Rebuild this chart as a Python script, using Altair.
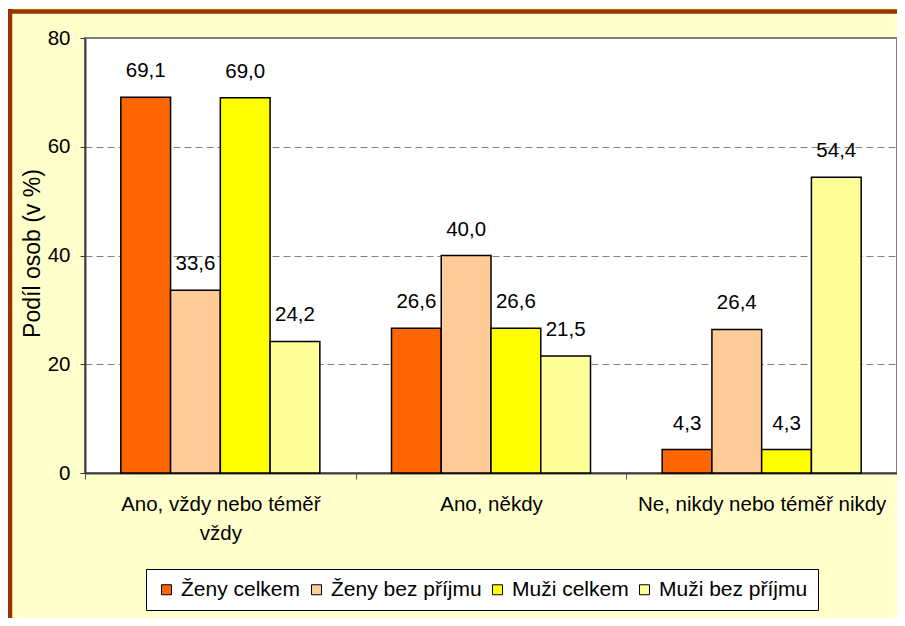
import altair as alt
import pandas as pd

categories = ["Ano, vždy nebo téměř vždy", "Ano, někdy", "Ne, nikdy nebo téměř nikdy"]
series = ["Ženy celkem", "Ženy bez příjmu", "Muži celkem", "Muži bez příjmu"]
zeny_celkem = [69.1, 26.6, 4.3]
zeny_bez = [33.6, 40.0, 26.4]
muzi_celkem = [69.0, 26.6, 4.3]
muzi_bez = [24.2, 21.5, 54.4]
colors = ["#FF6600", "#FFCC99", "#FFFF00", "#FFFF99"]
y_ticks = [0, 20, 40, 60, 80]

rows = []
for s, vals in zip(series, [zeny_celkem, zeny_bez, muzi_celkem, muzi_bez]):
    for c, v in zip(categories, vals):
        rows.append({"kat": c, "serie": s, "hodnota": v,
                     "popis": f"{v:.1f}".replace(".", ",")})
df = pd.DataFrame(rows)

FONT = "Liberation Sans"

x_enc = alt.X("kat:N", sort=categories, title=None,
              scale=alt.Scale(paddingInner=0, paddingOuter=0),
              axis=alt.Axis(labelAngle=0, labelFontSize=20.5, labelColor="black",
                            labelPadding=15, tickSize=6, tickColor="#555555",
                            tickBand="extent", domainColor="#404040", domainWidth=2,
                            labelLineHeight=29, labelLimit=400,
                            labelExpr="datum.label == 'Ano, vždy nebo téměř vždy' ? ['Ano, vždy nebo téměř', 'vždy'] : datum.label"))
xo_enc = alt.XOffset("serie:N", sort=series,
                     scale=alt.Scale(paddingOuter=0.72, paddingInner=0))
y_enc = alt.Y("hodnota:Q", scale=alt.Scale(domain=[0, 80], nice=False),
              axis=alt.Axis(values=y_ticks, title="Podíl osob (v %)",
                            titleFontSize=23, titleFontWeight="normal", titleColor="black",
                            titleX=-41, titleY=215, titleBaseline="bottom",
                            labelFontSize=20.5, labelColor="black", labelPadding=10,
                            tickSize=5, tickColor="#333333",
                            domainColor="#404040", domainWidth=2,
                            grid=True, gridColor="#808080", gridDash=[7, 4], gridWidth=1))

bars = alt.Chart(df).mark_bar(stroke="black", strokeWidth=1.5).encode(
    x=x_enc, xOffset=xo_enc, y=y_enc,
    color=alt.Color("serie:N", sort=series,
                    scale=alt.Scale(domain=series, range=colors),
                    legend=alt.Legend(orient="none", legendX=61, legendY=531,
                                      direction="horizontal", columns=4, title=None,
                                      fillColor="white", strokeColor="black", padding=10,
                                      symbolType="square", symbolSize=100,
                                      symbolStrokeColor="black", symbolStrokeWidth=1,
                                      labelFontSize=21, labelFont=FONT, labelColor="black",
                                      columnPadding=5, labelOffset=4)),
)

labels = alt.Chart(df).mark_text(baseline="alphabetic", dy=-20, fontSize=20.5,
                                 font=FONT, color="black").encode(
    x=alt.X("kat:N", sort=categories),
    xOffset=alt.XOffset("serie:N", sort=series),
    y="hodnota:Q",
    text="popis:N",
)

frame_df = pd.DataFrame({"a": [0]})
left_border = alt.Chart(frame_df).mark_rule(color="#993300", strokeWidth=4.5).encode(
    x=alt.value(-75), y=alt.value(-29), y2=alt.value(600))
top_border = alt.Chart(frame_df).mark_rule(color="#993300", strokeWidth=4.5).encode(
    x=alt.value(-77), x2=alt.value(830), y=alt.value(-26.5))

chart = alt.layer(bars, labels, left_border, top_border).properties(
    width=812, height=435,
    background="#FFFFCC",
    padding={"left": 77, "top": 30, "right": 0, "bottom": 145},
    autosize=alt.AutoSizeParams(type="none"),
).configure(font=FONT).configure_view(
    fill="white", stroke="#808080", strokeWidth=2
)

chart.save("out.html", embed_options={"renderer": "svg", "actions": False})
